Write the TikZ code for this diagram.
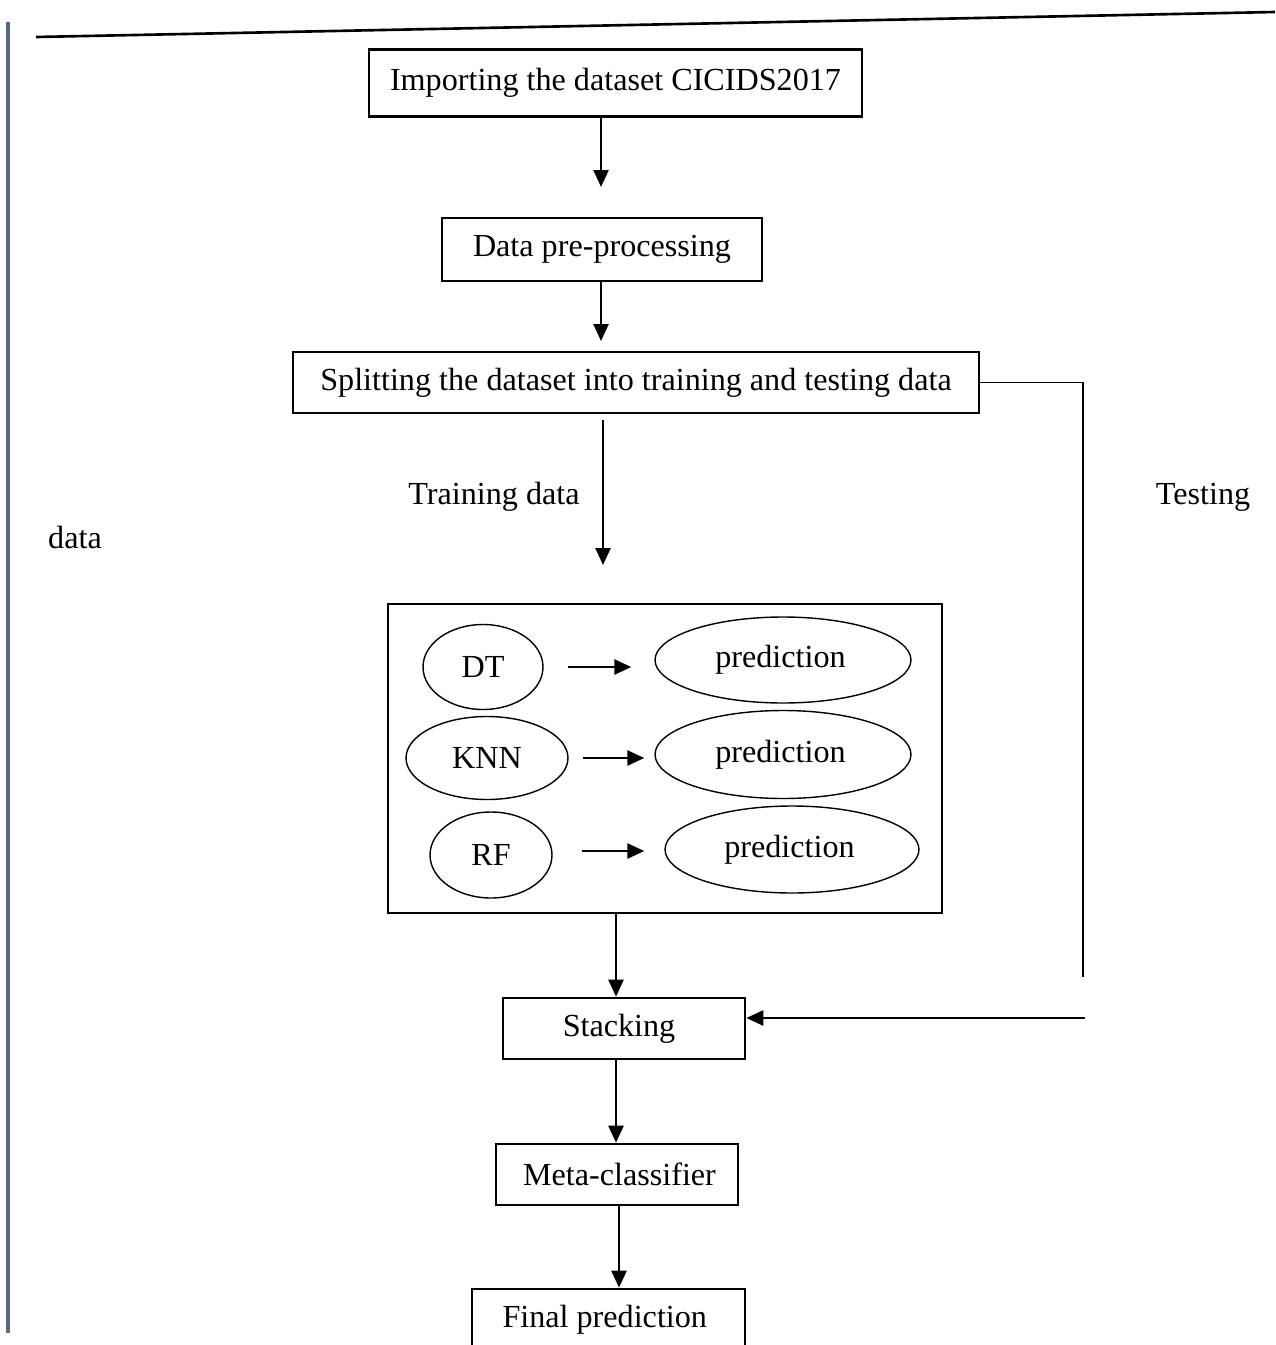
\documentclass[tikz,border=0pt]{standalone}
\usepackage{fontspec}
\setmainfont{Liberation Serif}
\usetikzlibrary{arrows.meta,positioning,calc,shapes.geometric}
\definecolor{cEdge}{HTML}{5A6880}
\tikzset{
  box/.style={draw,line width=1.5pt,inner sep=0pt,align=center},
  oval/.style={ellipse,draw,line width=0.8pt,inner sep=0pt},
  arr/.style={-{Triangle[length=3.4mm,width=3mm]},line width=1.4pt},
  thinline/.style={line width=0.8pt},
}
\begin{document}
\begin{tikzpicture}[x=0.02cm,y=-0.02cm,font=\fontsize{18.3}{22}\selectfont]
  \useasboundingbox (0,0) rectangle (1275,1345);
  % page rules
  \draw[cEdge,line width=2.2pt] (8,22) -- (8,1333);
  \draw[line width=1.5pt] (36,37) -- (1275,12);
  % main flow
  \node[box,minimum width=9.86cm,minimum height=1.34cm] (imp) at (615.5,83) {Importing the dataset CICIDS2017};
  \node[box,minimum width=6.4cm,minimum height=1.26cm] (pre) at (602,249.5) {Data pre-processing};
  \node[box,minimum width=13.72cm,minimum height=1.22cm] (split) at (636,382.5) {Splitting the dataset into training and testing data};
  \node[box,minimum width=11.08cm,minimum height=6.18cm] (base) at (665,758.5) {};
  \node[box,minimum width=4.84cm,minimum height=1.22cm] (stack) at (624,1028.5) {\hspace*{-0.2cm}Stacking};
  \node[box,minimum width=4.84cm,minimum height=1.22cm] (meta) at (617,1174.5) {\hspace*{0.1cm}Meta-classifier};
  \node[box,minimum width=5.46cm,minimum height=1.22cm] (final) at (608.5,1319.5) {\hspace*{-0.15cm}Final prediction};
  % base learners
  \node[oval,minimum width=2.4cm,minimum height=1.7cm] (dt) at (483,667) {DT};
  \node[oval,minimum width=3.24cm,minimum height=1.66cm] (knn) at (487,758) {KNN};
  \node[oval,minimum width=2.44cm,minimum height=1.72cm] (rf) at (491,855) {RF};
  \node[oval,minimum width=5.12cm,minimum height=1.72cm] (pdt) at (783,660) {\hspace*{-0.1cm}prediction};
  \node[oval,minimum width=5.12cm,minimum height=1.76cm] (pknn) at (783,754.5) {\hspace*{-0.1cm}prediction};
  \node[oval,minimum width=5.08cm,minimum height=1.74cm] (prf) at (792,849.5) {\hspace*{-0.1cm}prediction};
  % labels
  \node (lbtrain) at (494,497) {Training data};
  \node (lbtest) at (1203,497) {Testing};
  \node (lbdata) at (75,537) {data};
  % free ends
  \coordinate (e1) at (601,187);
  \coordinate (e2) at (601,341);
  \coordinate (t0) at (603,420);
  \coordinate (t1) at (603,565);
  \coordinate (tend) at (1083,977);
  \coordinate (tin) at (1085,1018);
  % connectors
  \draw[arr] (imp.south -| e1) -- (e1);
  \draw[arr] (pre.south -| e2) -- (e2);
  \draw[arr] (t0) -- (t1);
  \draw[arr] (base.south -| 616,0) -- (stack.north -| 616,0);
  \draw[arr] (stack.south -| 616,0) -- (meta.north -| 616,0);
  \draw[arr] (meta.south -| 619,0) -- (final.north -| 619,0);
  \draw[thinline] (split.east) -- (split.east -| tend) -- (tend);
  \draw[arr] (tin) -- (stack.east |- tin);
  \draw[arr] ([xshift=0.48cm]dt.east) -- ([xshift=-0.46cm]dt.east -| pdt.west);
  \draw[arr] ([xshift=0.28cm]knn.east) -- ([xshift=-0.2cm]knn.east -| pknn.west);
  \draw[arr] ([xshift=0.58cm]rf.east |- 0,851) -- ([xshift=-0.4cm]prf.west |- 0,851);
\end{tikzpicture}
\end{document}
